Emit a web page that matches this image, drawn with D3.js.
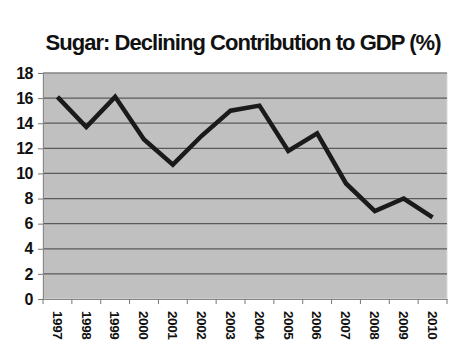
<!DOCTYPE html>
<html><head><meta charset="utf-8">
<script src="https://cdn.jsdelivr.net/npm/d3@7"></script>
<style>body{margin:0;background:#fff;}svg{display:block;}</style>
</head><body>
<script>
const years = ["1997","1998","1999","2000","2001","2002","2003","2004","2005","2006","2007","2008","2009","2010"];
const values = [16.1,13.7,16.1,12.7,10.7,13.0,15.0,15.4,11.8,13.2,9.2,7.0,8.0,6.5];
const yTicks = [0,2,4,6,8,10,12,14,16,18];
const title = "Sugar: Declining Contribution to GDP (%)";

const W=460,H=361;
const m={l:43,r:13,t:73,b:62};
const svg=d3.select("body").append("svg").attr("width",W).attr("height",H);
const x=d3.scaleBand().domain(years).range([m.l,W-m.r]);
const y=d3.scaleLinear().domain([0,18]).range([H-m.b,m.t]);

svg.append("rect").attr("x",m.l).attr("y",m.t).attr("width",W-m.r-m.l).attr("height",H-m.b-m.t)
  .attr("fill","#c0c0c0").attr("stroke","#d8d8d8");

svg.append("g").selectAll("line").data(yTicks.filter(d=>d>0)).join("line")
  .attr("x1",m.l).attr("x2",W-m.r).attr("y1",d=>y(d)).attr("y2",d=>y(d))
  .attr("stroke","#5a5a5a").attr("stroke-width",1.2);

const ya=svg.append("g").attr("transform",`translate(${m.l},0)`)
  .call(d3.axisLeft(y).tickValues(yTicks).tickSize(5).tickPadding(5));
ya.selectAll("text").attr("font-family","Liberation Sans, Arial, sans-serif").attr("font-size",16).attr("font-weight","bold").attr("fill","#111").attr("letter-spacing",-0.5);
ya.select(".domain").attr("stroke","#888");
ya.selectAll(".tick line").attr("stroke","#777");

const xa=svg.append("g").attr("transform",`translate(0,${H-m.b})`)
  .call(d3.axisBottom(x).tickSize(0).tickFormat(d=>d));
xa.select(".domain").attr("stroke","#888");
xa.selectAll("text").attr("font-family","Liberation Sans, Arial, sans-serif").attr("font-size",13.5).attr("font-weight","bold").attr("fill","#111")
  .attr("text-anchor","start").attr("y",0).attr("letter-spacing",-0.4)
  .attr("transform","translate(0,12) rotate(90)").attr("dy","0.35em");
svg.append("g").selectAll("line").data(years.concat(["end"])).join("line")
  .attr("x1",(d,i)=>m.l+i*x.step()).attr("x2",(d,i)=>m.l+i*x.step())
  .attr("y1",H-m.b).attr("y2",H-m.b+5).attr("stroke","#777");

const line=d3.line().x((d,i)=>x(years[i])+x.bandwidth()/2).y(d=>y(d));
svg.append("path").datum(values).attr("d",line).attr("fill","none")
  .attr("stroke","#1a1a1a").attr("stroke-width",4.5).attr("stroke-linejoin","miter");

const t=svg.append("text").attr("x",243).attr("y",50).attr("text-anchor","middle")
  .attr("font-family","Liberation Sans, Arial, sans-serif").attr("font-weight","bold").attr("font-size",22)
  .attr("fill","#111").text(title);
const tl=t.node().getComputedTextLength();
t.attr("letter-spacing",(396-tl)/(title.length-1));
</script>
</body></html>
